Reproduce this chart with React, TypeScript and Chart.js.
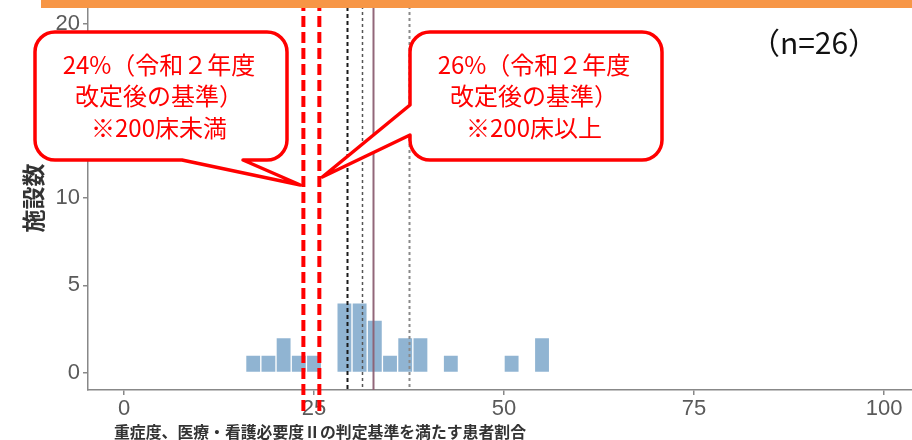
import React, { useEffect, useRef } from "react";
import { Chart, registerables } from "chart.js";

Chart.register(...registerables);

// ---- data ----
const binCenters = [17, 19, 21, 23, 25, 29, 31, 33, 35, 37, 39, 43, 51, 55];
const binCounts = [1, 1, 2, 1, 1, 4, 4, 3, 1, 2, 2, 1, 1, 2];
const xTickValues = [0, 25, 50, 75, 100];
const yTickValues = [0, 5, 10, 15, 20];
const thresholdValues = [23.6, 25.7];
const statLineValues = [29.3, 31.3, 32.8, 37.5];
const leftCalloutLines = ["24%（令和２年度", "改定後の基準）", "※200床未満"];
const rightCalloutLines = ["26%（令和２年度", "改定後の基準）", "※200床以上"];
const sampleLabel = "（n=26）";
const xTitle = "重症度、医療・看護必要度Ⅱの判定基準を満たす患者割合";
const yTitle = "施設数";

const CJK = '"Noto Sans CJK JP", "Noto Sans", sans-serif';

const statStyles = [
  { color: "#1a1a1a", width: 2, dash: [4, 3] },
  { color: "#555555", width: 1.5, dash: [3, 3] },
  { color: "rgba(140,95,115,0.95)", width: 2, dash: [] as number[] },
  { color: "#8a8a8a", width: 2, dash: [3, 3] },
];

function roundedCallout(
  ctx: CanvasRenderingContext2D,
  l: number, t: number, r: number, b: number, rad: number,
  side: "bottom" | "left", a: number, bpos: number, tipX: number, tipY: number
) {
  ctx.beginPath();
  ctx.moveTo(l + rad, t);
  ctx.lineTo(r - rad, t);
  ctx.arcTo(r, t, r, t + rad, rad);
  ctx.lineTo(r, b - rad);
  ctx.arcTo(r, b, r - rad, b, rad);
  if (side === "bottom") {
    ctx.lineTo(bpos, b);
    ctx.lineTo(tipX, tipY);
    ctx.lineTo(a, b);
  }
  ctx.lineTo(l + rad, b);
  ctx.arcTo(l, b, l, b - rad, rad);
  if (side === "left") {
    ctx.lineTo(l, bpos);
    ctx.lineTo(tipX, tipY);
    ctx.lineTo(l, a);
  }
  ctx.lineTo(l, t + rad);
  ctx.arcTo(l, t, l + rad, t, rad);
  ctx.closePath();
  ctx.fillStyle = "#ffffff";
  ctx.fill();
  ctx.lineWidth = 3.5;
  ctx.lineJoin = "round";
  ctx.strokeStyle = "#ff0000";
  ctx.stroke();
}

const overlayPlugin = {
  id: "overlay",
  afterDatasetsDraw(chart: any) {
    const ctx: CanvasRenderingContext2D = chart.ctx;
    const xs = chart.scales.x;
    const area = chart.chartArea;
    ctx.save();
    // statistic lines
    statLineValues.forEach((v, i) => {
      const st = statStyles[i];
      const px = Math.round(xs.getPixelForValue(v)) + 0.5;
      ctx.beginPath();
      ctx.setLineDash(st.dash);
      ctx.lineWidth = st.width;
      ctx.strokeStyle = st.color;
      ctx.moveTo(px, area.top);
      ctx.lineTo(px, area.bottom);
      ctx.stroke();
    });
    // red threshold lines
    thresholdValues.forEach((v) => {
      const px = xs.getPixelForValue(v);
      ctx.beginPath();
      ctx.setLineDash([11, 5]);
      ctx.lineWidth = 4;
      ctx.strokeStyle = "#ff0000";
      ctx.moveTo(px, 0);
      ctx.lineTo(px, 413);
      ctx.stroke();
    });
    ctx.setLineDash([]);

    // callouts
    const lx = xs.getPixelForValue(thresholdValues[0]);
    const rx = xs.getPixelForValue(thresholdValues[1]);
    roundedCallout(ctx, 35, 32, 287, 160, 20, "bottom", 182, 243, lx - 3, 185);
    roundedCallout(ctx, 410, 32, 662, 160, 20, "left", 105, 135, rx + 3, 177);

    ctx.fillStyle = "#ff0000";
    ctx.font = `24px ${CJK}`;
    ctx.textAlign = "center";
    ctx.textBaseline = "middle";
    const lineYs = [65, 96, 128];
    leftCalloutLines.forEach((s, i) => ctx.fillText(s, 159, lineYs[i]));
    rightCalloutLines.forEach((s, i) => ctx.fillText(s, 534, lineYs[i]));

    // sample size
    ctx.fillStyle = "#111111";
    ctx.font = `30px ${CJK}`;
    ctx.fillText(sampleLabel, 814, 43);

    // orange band at top
    ctx.fillStyle = "#f79646";
    ctx.fillRect(41, 0, 912 - 41, 8);

    // axis titles
    ctx.fillStyle = "#333333";
    ctx.font = `bold 16px ${CJK}`;
    ctx.textAlign = "left";
    ctx.fillText(xTitle, 114, 432, 412);

    ctx.save();
    ctx.translate(33, 198);
    ctx.rotate(-Math.PI / 2);
    ctx.font = `bold 23px ${CJK}`;
    ctx.textAlign = "center";
    ctx.fillText(yTitle, 0, 0);
    ctx.restore();

    ctx.restore();
  },
};

export default function App() {
  const ref = useRef<HTMLCanvasElement | null>(null);
  useEffect(() => {
    if (!ref.current) return;
    const chart = new Chart(ref.current, {
      type: "bar",
      data: {
        datasets: [
          {
            data: binCenters.map((c, i) => ({ x: c, y: binCounts[i] })),
            backgroundColor: "rgba(70,130,180,0.6)",
            borderColor: "#ffffff",
            borderWidth: 1,
            barPercentage: 1,
            categoryPercentage: 1,
          },
        ],
      },
      options: {
        animation: false,
        responsive: false,
        events: [],
        layout: { padding: 0 },
        plugins: { legend: { display: false }, tooltip: { enabled: false } },
        scales: {
          x: {
            type: "linear",
            offset: false,
            min: -4.74,
            max: 103.68,
            afterBuildTicks: (s: any) => {
              s.ticks = xTickValues.map((v) => ({ value: v }));
            },
            afterFit: (s: any) => {
              s.height = 50;
              s.paddingLeft = 0;
              s.paddingRight = 0;
            },
            grid: { display: true, offset: false, drawOnChartArea: false, drawTicks: true, tickLength: 5, color: "#888888", lineWidth: 1.5 },
            border: { display: true, color: "#888888", width: 1.5 },
            ticks: { font: { family: "Liberation Sans", size: 22 }, color: "#5a5a5a", padding: 1, maxRotation: 0, autoSkip: false },
          },
          y: {
            type: "linear",
            min: -1.0,
            max: 21.35,
            afterBuildTicks: (s: any) => {
              s.ticks = yTickValues.map((v) => ({ value: v }));
            },
            afterFit: (s: any) => {
              s.width = 88;
              s.paddingTop = 0;
              s.paddingBottom = 0;
            },
            grid: { display: true, drawOnChartArea: false, drawTicks: true, tickLength: 5, color: "#888888", lineWidth: 1.5 },
            border: { display: true, color: "#888888", width: 1.5 },
            ticks: { font: { family: "Liberation Sans", size: 22 }, color: "#5a5a5a", padding: 3, autoSkip: false },
          },
        },
      },
      plugins: [overlayPlugin],
    } as any);
    return () => chart.destroy();
  }, []);
  return (
    <div style={{ position: "absolute", left: 0, top: 0, width: 912, height: 440, background: "#ffffff" }}>
      <canvas ref={ref} width={912} height={440} style={{ display: "block", width: 912, height: 440 }} />
    </div>
  );
}
